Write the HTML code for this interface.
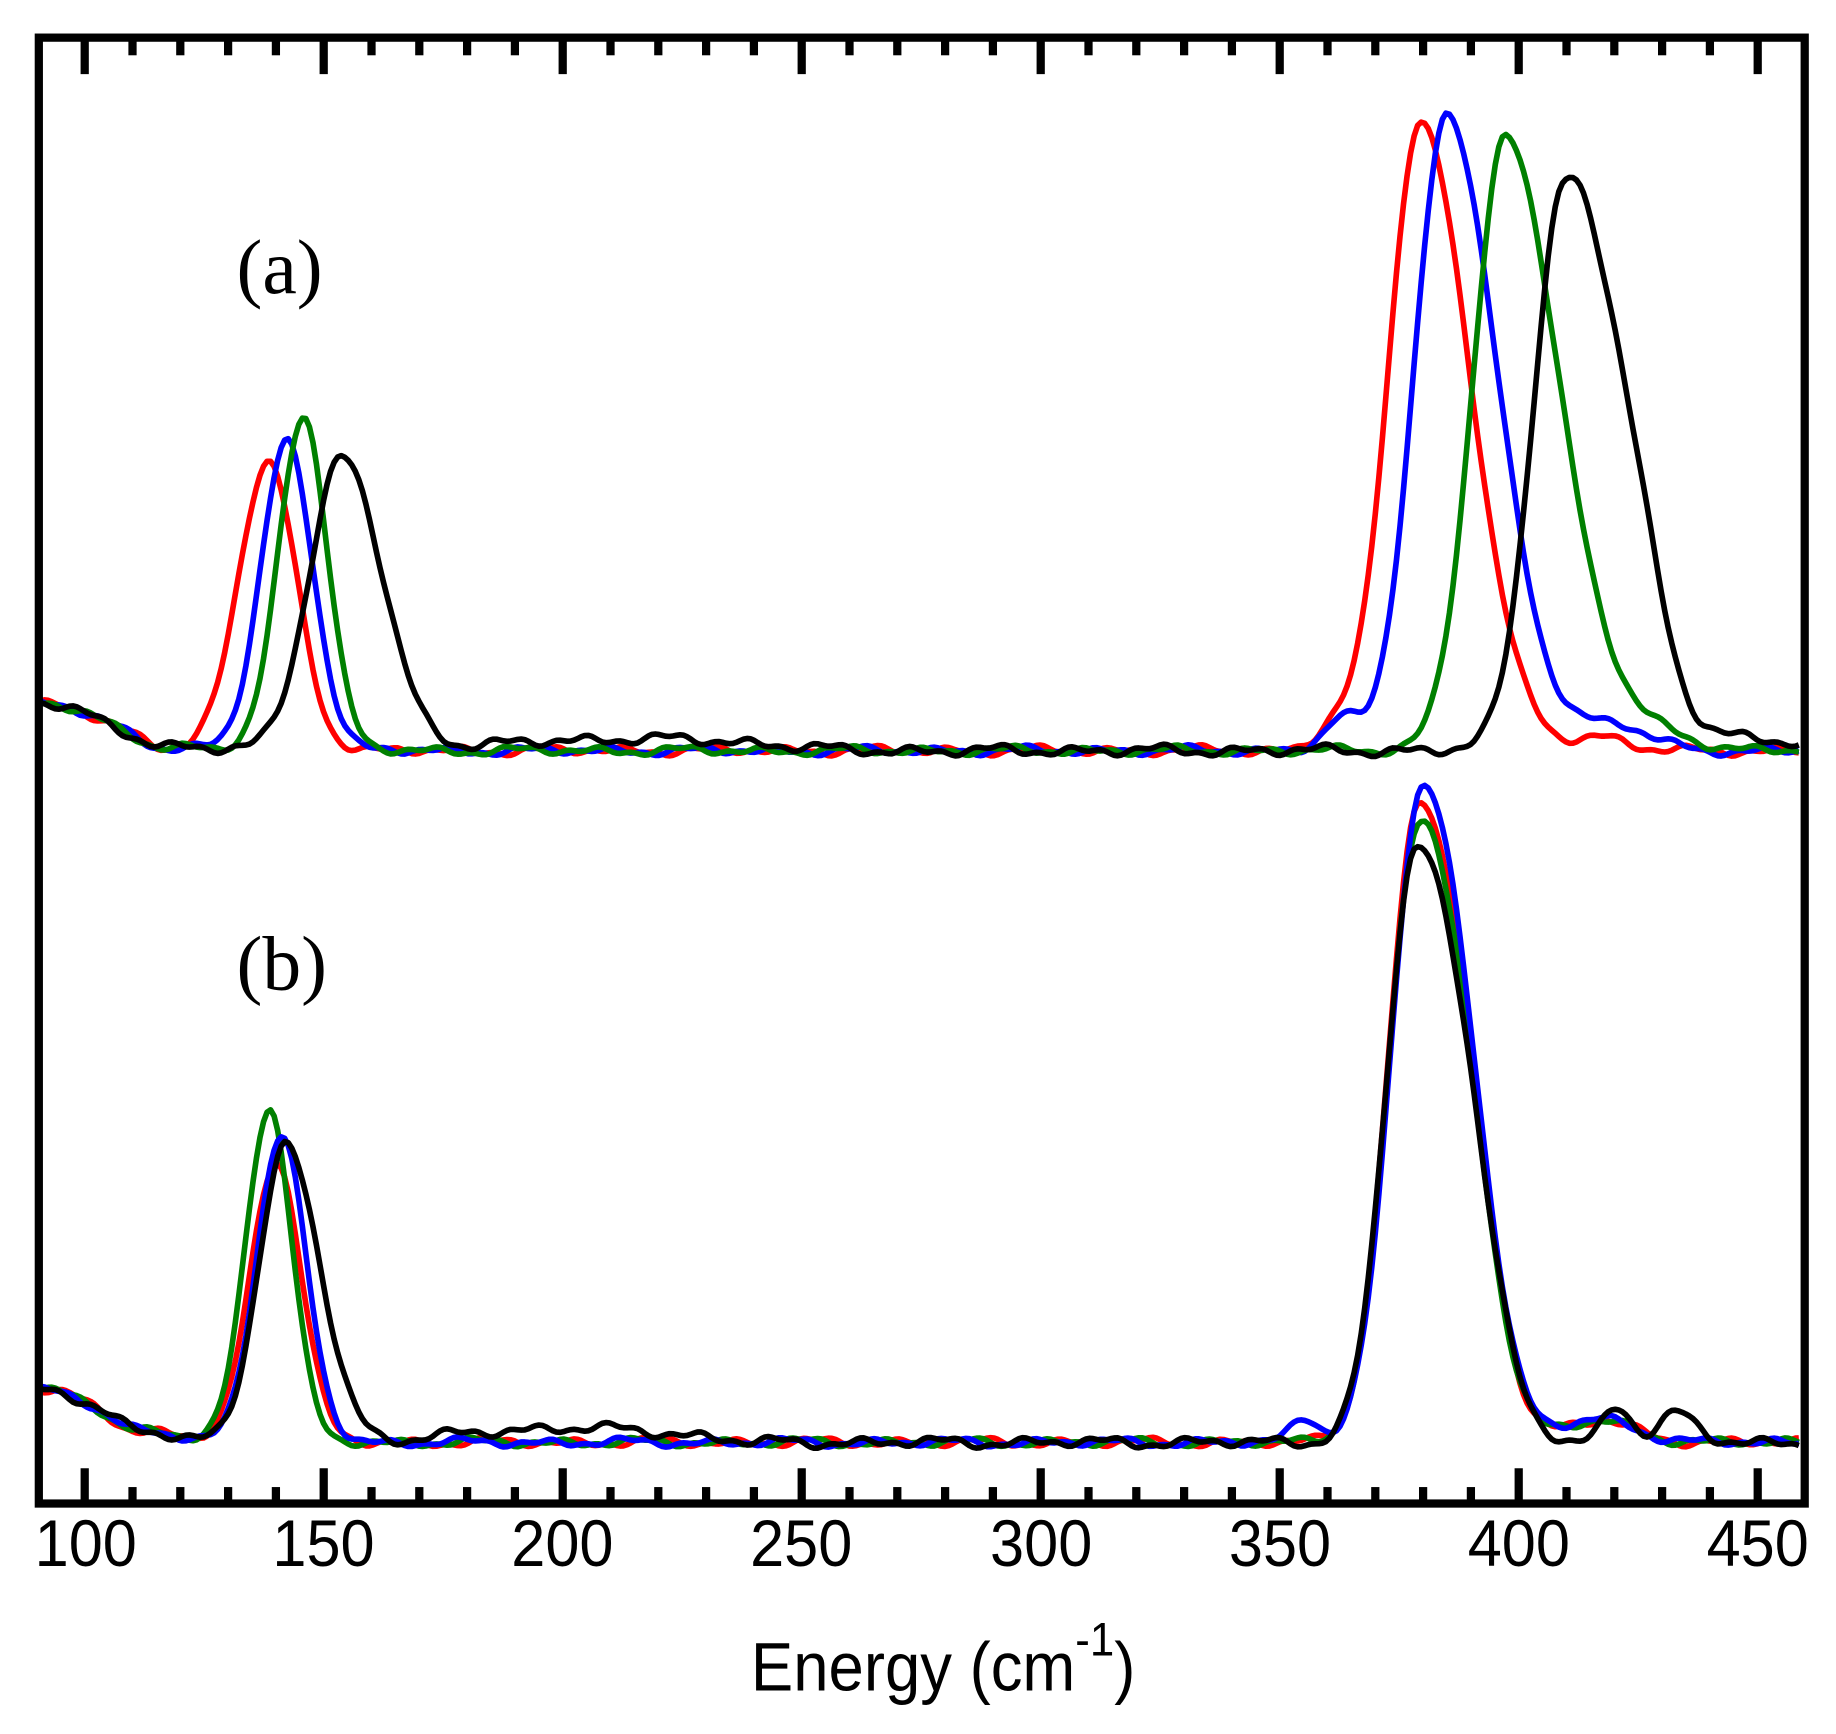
<!DOCTYPE html>
<html><head><meta charset="utf-8"><style>
html,body{margin:0;padding:0;background:#fff;}
svg{display:block;}
</style></head><body>
<svg id="s" width="1836" height="1734" viewBox="0 0 1560.6 1473.9" xmlns="http://www.w3.org/2000/svg">
<rect x="0" y="0" width="1560.6" height="1473.9" fill="#fff"/>
<g id="curves" fill="none" stroke-width="4.8" stroke-linejoin="round"></g>
<rect x="33" y="32" width="1501" height="1246" fill="none" stroke="#000" stroke-width="7"/>
<g id="ticks" stroke="#000" stroke-width="7"></g>
<g font-family="Liberation Sans, sans-serif" font-size="56" text-anchor="middle" fill="#000">
<g transform="scale(0.93,1)">
<text x="78.4" y="1331">100</text><text x="295.7" y="1331">150</text><text x="514" y="1331">200</text>
<text x="732.3" y="1331">250</text><text x="951.6" y="1331">300</text><text x="1169.9" y="1331">350</text>
<text x="1388.2" y="1331">400</text><text x="1606.5" y="1331">450</text>
<text x="862" y="1437" font-size="58">Energy (cm<tspan dy="-30" font-size="40">-1</tspan><tspan dy="30">)</tspan></text>
</g>
</g>
<g font-family="Liberation Serif, serif" font-size="66" fill="#000">
<text x="201" y="249">(a)</text>
<text x="201" y="841">(b)</text>
</g>
</svg>
<script>
var ns="http://www.w3.org/2000/svg";
var X=function(v){return 72+(v-100)*4.063;};
var tk=document.getElementById('ticks');
for(var v=90;v<=460;v+=10){var x=X(v);if(x<38||x>1530)continue;var L=(v%50==0)?28:12;
 [[35,35+L],[1276,1276-L]].forEach(function(p){var l=document.createElementNS(ns,'line');l.setAttribute('x1',x);l.setAttribute('x2',x);l.setAttribute('y1',p[0]);l.setAttribute('y2',p[1]);tk.appendChild(l);});}
function g(x,c,a,sl,sr){var s=x<c?sl:sr;return a*Math.exp(-0.5*((x-c)/s)*((x-c)/s));}
function curve(color,base,peaks,noise,seed,extra){
 var d="";for(var x=35;x<=1531;x+=3){
  var y=base(x);peaks.forEach(function(p){y-=g(x,p[0],p[1],p[2],p[3]);});
  y+=noise*(Math.sin(x*0.09+seed)+0.6*Math.sin(x*0.23+seed*2.3)+0.4*Math.sin(x*0.047+seed*0.7));
  if(extra)y+=extra(x);
  d+=(d?"L":"M")+x.toFixed(1)+","+y.toFixed(1);}
 var p=document.createElementNS(ns,'path');p.setAttribute('d',d);p.setAttribute('stroke',color);
 document.getElementById('curves').appendChild(p);}
var ba=function(x){return 638-40*Math.exp(-Math.pow((x-33)/80,2))+4*Math.exp(-Math.pow((x-135)/20,2));};
var bb=function(x){return 1226-45*Math.exp(-Math.pow((x-33)/80,2))+6*Math.exp(-Math.pow((x-110)/20,2));};
curve('#ff0000',ba,[[228,245,25,24],[1207,535,27,42],[1135,20,15,15],[1360,12,20,20]],2.5,1);
curve('#0000ff',ba,[[244,262,22,22],[1230,540,28,42],[1140,25,15,15],[1370,22,40,30]],2.5,2);
curve('#008000',ba,[[258,286,21,20],[1280,520,28,45],[1390,18,40,40]],2.5,3);
curve('#000000',ba,[[291,248,28,34],[1328,455,26,36],[1385,160,30,28],[1470,12,40,40]],3,4,function(x){return (x>360&&x<720)?-10*Math.sin((x-360)/360*Math.PI):0;});
curve('#ff0000',bb,[[235,240,22,21],[1206,535,26,36],[1252,80,22,25],[1360,18,30,30]],2.5,5);
curve('#008000',bb,[[229,285,20,19],[1206,520,26,36],[1252,80,22,25],[1360,18,30,30]],2.5,6);
curve('#0000ff',bb,[[239,260,21,21],[1208,545,26,36],[1252,80,22,25],[1110,20,12,12],[1360,20,30,30]],2.5,7);
curve('#000000',bb,[[243,250,23,29],[1203,495,25,36],[1252,110,22,25],[1375,30,12,12],[1425,25,15,15]],3,8,function(x){return (x>330&&x<640)?-12*Math.sin((x-330)/310*Math.PI):0;});
</script>
</body></html>
